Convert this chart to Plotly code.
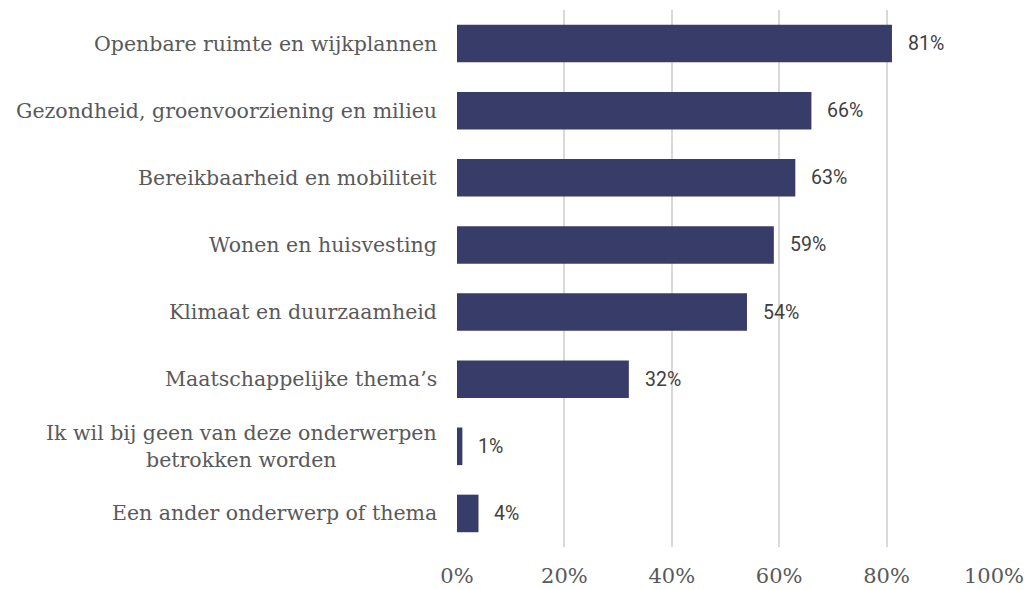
import plotly.graph_objects as go

categories = [
    "Openbare ruimte en wijkplannen",
    "Gezondheid, groenvoorziening en milieu",
    "Bereikbaarheid en mobiliteit",
    "Wonen en huisvesting",
    "Klimaat en duurzaamheid",
    "Maatschappelijke thema’s",
    "Ik wil bij geen van deze onderwerpen<br>betrokken worden",
    "Een ander onderwerp of thema",
]
values = [81, 66, 63, 59, 54, 32, 1, 4]
value_labels = ["81%", "66%", "63%", "59%", "54%", "32%", "1%", "4%"]
tick_vals = [0, 20, 40, 60, 80, 100]
tick_text = ["0%", "20%", "40%", "60%", "80%", "100%"]

ycats = list(range(len(categories)))

fig = go.Figure()
fig.add_trace(go.Bar(
    x=values,
    y=ycats,
    orientation="h",
    marker=dict(color="#383C69", line=dict(width=0)),
    width=0.56,
    hoverinfo="skip",
))

annotations = []
for i, (v, lab) in enumerate(zip(values, value_labels)):
    annotations.append(dict(
        x=v, y=i, xref="x", yref="y", text=lab, showarrow=False,
        xanchor="left", yanchor="middle", xshift=14,
        font=dict(family="Roboto", size=19.5, color="#404040"),
    ))
for i, c in enumerate(categories):
    annotations.append(dict(
        x=0, y=i, xref="paper", yref="y", text=c, showarrow=False,
        xanchor="right", yanchor="middle", xshift=-18, align="center",
        font=dict(family="DejaVu Serif", size=20.5, color="#595959"),
    ))

fig.update_layout(
    width=1028, height=590,
    margin=dict(l=457, r=34, t=10, b=43, autoexpand=False),
    plot_bgcolor="white", paper_bgcolor="white",
    showlegend=False,
    annotations=annotations,
    xaxis=dict(
        range=[0, 100], tickvals=tick_vals, ticktext=tick_text,
        showgrid=True, gridcolor="#D9D9D9", gridwidth=2,
        zeroline=False, showline=False, ticks="",
        tickfont=dict(family="DejaVu Serif", size=21, color="#595959"),
        ticklabelstandoff=14, automargin=False,
    ),
    yaxis=dict(
        range=[len(categories) - 0.5, -0.5], automargin=False,
        showticklabels=False, showgrid=False, zeroline=False, showline=False,
    ),
)

fig.write_html("out.html")
